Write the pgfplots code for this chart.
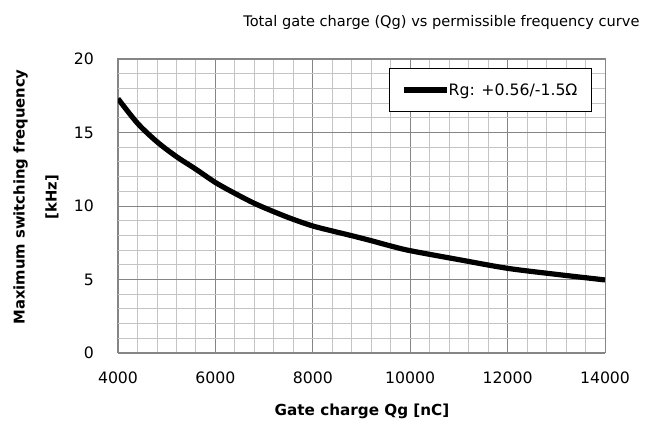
\documentclass[border=0pt]{standalone}
\usepackage{fontspec}
\setmainfont{DejaVu Sans}
\usepackage{pgfplots}
\pgfplotsset{compat=1.18}

\definecolor{majgrid}{HTML}{858585}
\definecolor{mingrid}{HTML}{C4C4C4}

\begin{document}
\begin{tikzpicture}
\begin{axis}[
    scale only axis,
    width=487pt, height=294pt,
    xmin=4000, xmax=14000,
    ymin=0, ymax=20,
    xtick={4000,6000,...,14000},
    ytick={0,5,...,20},
    minor x tick num=4,
    minor y tick num=4,
    grid=both,
    major grid style={majgrid, line width=0.9pt},
    minor grid style={mingrid, line width=0.9pt},
    axis line style={majgrid, line width=1pt},
    major tick length=0pt, minor tick length=0pt,
    scaled x ticks=false,
    /pgf/number format/assume math mode=true,
    /pgf/number format/set thousands separator={},
    xticklabel style={font=\fontsize{15.7}{18}\selectfont, anchor=center, inner sep=0pt, yshift=-25pt},
    yticklabel style={font=\fontsize{15.7}{18}\selectfont, anchor=east, inner sep=0pt, xshift=-24pt},
    legend style={at={(1,1)}, anchor=north east, xshift=-13pt, yshift=-9pt,
        draw=black, line width=1pt, inner xsep=12pt, inner ysep=13pt,
        font=\fontsize{15.7}{18}\selectfont},
    legend image code/.code={\draw[#1] (0pt,0pt) -- (43pt,0pt);},
    legend cell align=left,
    /tikz/every odd column/.append style={column sep=-3pt},
]
\addplot[black, line width=5.2pt, smooth] coordinates {
    (4000, 17.3)
    (4400, 15.63)
    (4800, 14.37)
    (5200, 13.36)
    (5600, 12.5)
    (6000, 11.6)
    (6400, 10.86)
    (6800, 10.18)
    (7200, 9.61)
    (7600, 9.09)
    (8000, 8.64)
    (8400, 8.3)
    (8800, 7.98)
    (9200, 7.64)
    (9600, 7.28)
    (10000, 6.96)
    (11000, 6.35)
    (12000, 5.76)
    (13000, 5.35)
    (14000, 4.97)
};
\addlegendentry{Rg: +0.56/-1.5Ω}
\coordinate (o) at (rel axis cs:0,0);
\end{axis}
\node[anchor=base east, font=\fontsize{14.6}{17}\selectfont] at ([shift={(525pt,326pt)}]o) {Total gate charge (Qg) vs permissible frequency curve};
\node[font=\bfseries\fontsize{15.2}{17}\selectfont] at ([shift={(244pt,-58pt)}]o) {Gate charge Qg [nC]};
\node[rotate=90, font=\bfseries\fontsize{14.8}{32}\selectfont, align=center] at ([shift={(-82pt,156pt)}]o) {Maximum switching frequency\\{}[kHz]};
\pgfresetboundingbox
\path[use as bounding box] ([shift={(-118pt,-72pt)}]o) rectangle ([shift={(530pt,353pt)}]o);
\end{tikzpicture}
\end{document}
